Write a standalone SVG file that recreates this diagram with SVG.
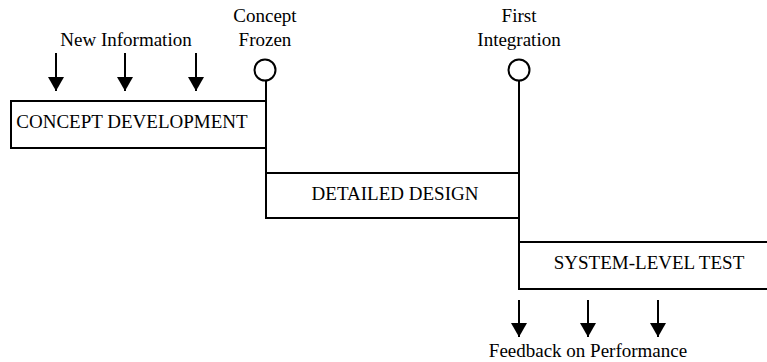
<svg xmlns="http://www.w3.org/2000/svg" width="767" height="362" viewBox="0 0 767 362">
<style>
.box{fill:#fff;stroke:#000;stroke-width:2}
.ln{stroke:#000;stroke-width:2;fill:none}
.arr{stroke:#000;stroke-width:2;marker-end:url(#ah)}
.ms{fill:#fff;stroke:#000;stroke-width:2}
text{font-family:"Liberation Serif","Times New Roman",serif;font-size:19px;fill:#000;text-anchor:middle}
</style>
<defs>
<marker id="ah" markerUnits="userSpaceOnUse" viewBox="0 0 14 16" refX="14" refY="8" markerWidth="14" markerHeight="16" orient="auto">
<path d="M0,0 L14,8 L0,16 z" fill="#000"/>
</marker>
</defs>
<rect width="767" height="362" fill="#fff"/>
<g id="concept-development">
<rect class="box" x="11" y="101" width="255" height="47"/>
<text x="132" y="128">CONCEPT DEVELOPMENT</text>
</g>
<g id="detailed-design">
<rect class="box" x="266" y="173" width="253" height="45"/>
<text x="395" y="200">DETAILED DESIGN</text>
</g>
<g id="system-level-test">
<rect class="box" x="519" y="242" width="260" height="47"/>
<text x="649" y="269">SYSTEM-LEVEL TEST</text>
</g>
<g id="connectors">
<line class="ln" x1="266" y1="80" x2="266" y2="218"/>
<line class="ln" x1="519" y1="80" x2="519" y2="289"/>
<line class="arr" x1="56" y1="53" x2="56" y2="91"/>
<line class="arr" x1="125" y1="53" x2="125" y2="91"/>
<line class="arr" x1="196" y1="53" x2="196" y2="91"/>
<line class="arr" x1="519" y1="300" x2="519" y2="337"/>
<line class="arr" x1="588" y1="300" x2="588" y2="337"/>
<line class="arr" x1="658" y1="300" x2="658" y2="337"/>
</g>
<g id="concept-frozen">
<circle class="ms" cx="265" cy="70" r="10.5"/>
<text x="265" y="22">Concept</text>
<text x="265" y="46">Frozen</text>
</g>
<g id="first-integration">
<circle class="ms" cx="519" cy="70" r="10.5"/>
<text x="519" y="22">First</text>
<text x="519" y="46">Integration</text>
</g>
<g id="new-information">
<text x="126" y="46">New Information</text>
</g>
<g id="feedback">
<text x="588" y="357">Feedback on Performance</text>
</g>
</svg>
